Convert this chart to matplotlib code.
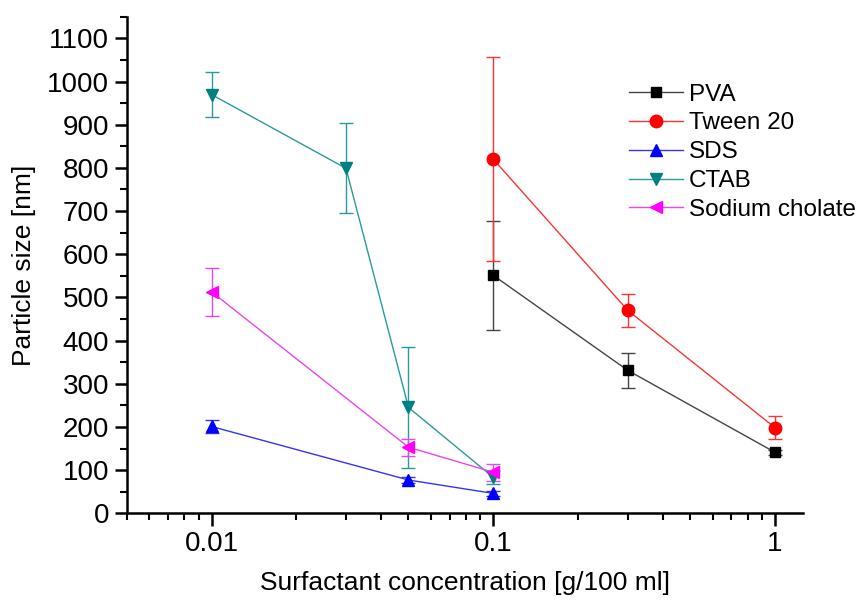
import matplotlib
matplotlib.use("Agg")
import matplotlib.pyplot as plt
from matplotlib.ticker import FixedLocator, NullFormatter, MultipleLocator, LogLocator
from matplotlib.lines import Line2D
import numpy as np

plt.rcParams['font.family'] = ['Liberation Sans', 'DejaVu Sans']

# data
pva_x = [0.1, 0.3, 1.0]
pva_y = [551, 331, 141]
pva_err = [127, 40, 6]

tween_x = [0.1, 0.3, 1.0]
tween_y = [820, 470, 198]
tween_err = [236, 39, 27]

sds_x = [0.01, 0.05, 0.1]
sds_y = [201, 77, 46]
sds_err = [15, 8, 6]

ctab_x = [0.01, 0.03, 0.05, 0.1]
ctab_y = [970, 799, 245, 83]
ctab_err = [53, 104, 141, 15]

chol_x = [0.01, 0.05, 0.1]
chol_y = [513, 153, 95]
chol_err = [55, 20, 20]

series = [
    ("PVA", pva_x, pva_y, pva_err, "black", "#444444", "s", 7),
    ("Tween 20", tween_x, tween_y, tween_err, "#ff0000", "#ff3333", "o", 9),
    ("SDS", sds_x, sds_y, sds_err, "#0000ff", "#3333ff", "^", 9),
    ("CTAB", ctab_x, ctab_y, ctab_err, "#008080", "#2a9a9a", "v", 9),
    ("Sodium cholate", chol_x, chol_y, chol_err, "#ff00ff", "#ee44ee", "<", 9),
]

fig = plt.figure(figsize=(8.62, 6.01), dpi=100)
ax = fig.add_axes([0.147, 0.146, 0.785, 0.826])

handles = []
for name, x, y, err, mcol, lcol, mk, ms in series:
    ax.errorbar(x, y, yerr=err, color=lcol, ecolor=lcol, elinewidth=1,
                capsize=5, capthick=1, linewidth=1, marker=mk, markersize=ms,
                markerfacecolor=mcol, markeredgecolor=mcol)
    handles.append(Line2D([], [], color=lcol, linewidth=1, marker=mk,
                          markersize=ms, markerfacecolor=mcol,
                          markeredgecolor=mcol, label=name))

ax.set_xscale("log")
ax.set_xlim(0.005, 1.26)
ax.set_ylim(0, 1150)
ax.set_xticks([0.01, 0.1, 1])
ax.set_xticklabels(["0.01", "0.1", "1"])
ax.xaxis.set_minor_locator(LogLocator(base=10, subs=np.arange(2, 10)))
ax.xaxis.set_minor_formatter(NullFormatter())
ax.yaxis.set_major_locator(FixedLocator(np.arange(0, 1101, 100)))
ax.yaxis.set_minor_locator(MultipleLocator(50))

for s in ["top", "right"]:
    ax.spines[s].set_visible(False)
for s in ["left", "bottom"]:
    ax.spines[s].set_linewidth(1.8)

ax.tick_params(which="major", direction="out", length=9, width=1.8, labelsize=20)
ax.tick_params(which="minor", direction="out", length=5, width=1.5)

ax.set_ylabel("Particle size [nm]", fontsize=19, labelpad=8)
ax.set_xlabel("Surfactant concentration [g/100 ml]", fontsize=19, labelpad=10)

ax.legend(handles=handles, loc="upper left", bbox_to_anchor=(0.728, 0.885),
          frameon=False, fontsize=17.5, handlelength=2.2, labelspacing=0.28,
          handletextpad=0.25, borderaxespad=0)

plt.savefig("out.png", dpi=100)
